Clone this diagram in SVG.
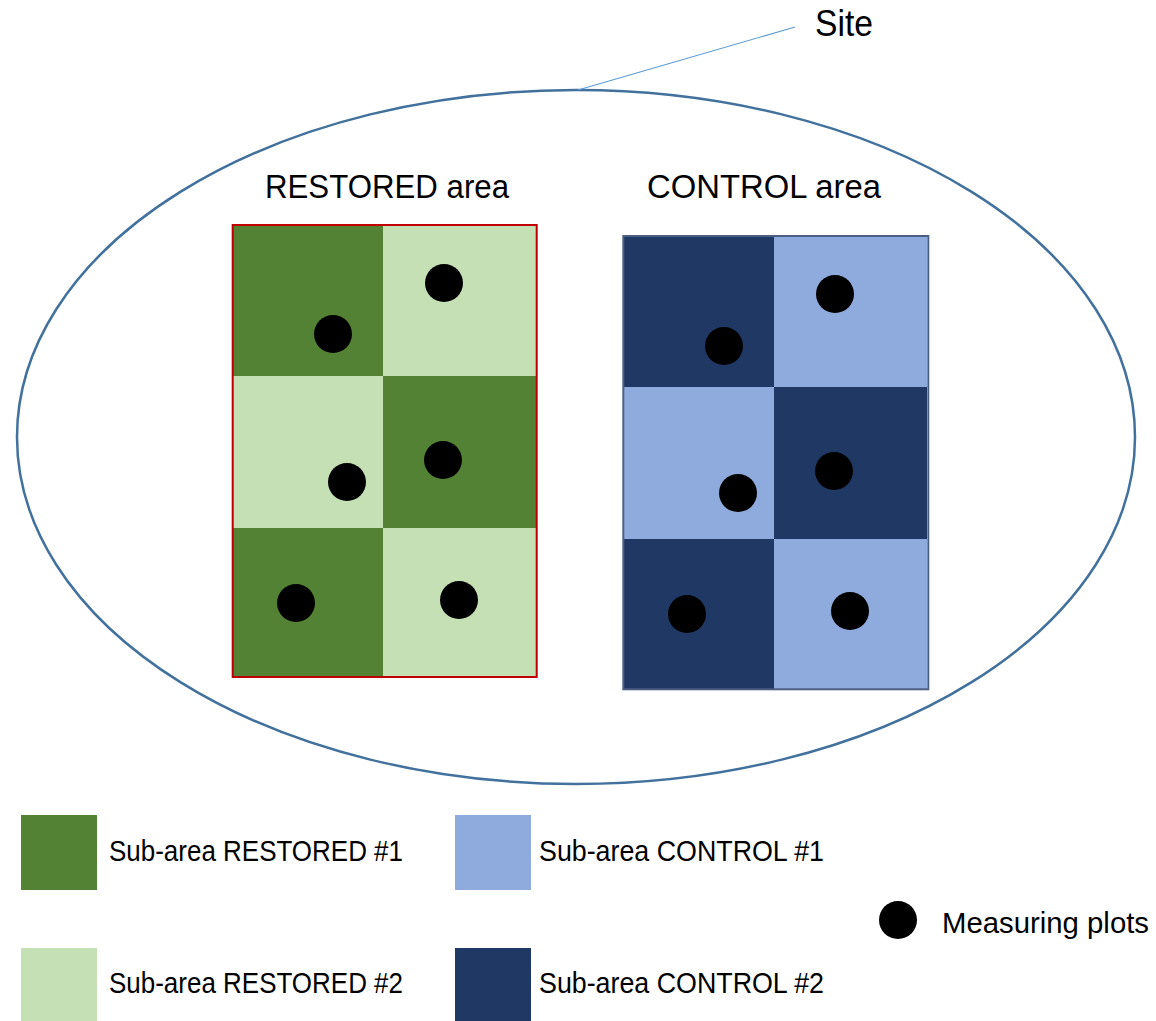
<svg xmlns="http://www.w3.org/2000/svg" width="1156" height="1021" viewBox="0 0 1156 1021">
  <style>
    text { font-family: "Liberation Sans", Arial, sans-serif; fill: #000; }
    .title { font-size: 34px; }
    .label { font-size: 30px; }
    .site { font-size: 37px; }
    .r1 { fill: #548235; }
    .r2 { fill: #c5e0b4; }
    .c1 { fill: #8faadc; }
    .c2 { fill: #203864; }
    .plot { fill: #000; }
  </style>
  <defs>
    <circle id="plot" r="19" class="plot"/>
  </defs>
  <rect width="1156" height="1021" fill="#fff"/>

  <!-- Site boundary -->
  <g id="site">
    <ellipse cx="576" cy="437" rx="559" ry="347" fill="none" stroke="#41719c" stroke-width="2.5"/>
    <text class="site" x="815" y="36" textLength="58" lengthAdjust="spacingAndGlyphs">Site</text>
  </g>

  <!-- Leader line from the site label -->
  <g id="connectors">
    <line x1="578" y1="90" x2="795" y2="27" stroke="#5b9bd5" stroke-width="1.2"/>
  </g>

  <!-- Restored area: 2 x 3 sub-area grid -->
  <g id="restored-area">
    <text class="title" x="265" y="198" textLength="244" lengthAdjust="spacingAndGlyphs">RESTORED area</text>
    <rect class="r1" x="233" y="225" width="150" height="151"/>
    <rect class="r2" x="383" y="225" width="153" height="151"/>
    <rect class="r2" x="233" y="376" width="150" height="152"/>
    <rect class="r1" x="383" y="376" width="153" height="152"/>
    <rect class="r1" x="233" y="528" width="150" height="149"/>
    <rect class="r2" x="383" y="528" width="153" height="149"/>
    <rect x="232.7" y="225" width="304" height="452" fill="none" stroke="#c00000" stroke-width="2"/>
    <use href="#plot" x="333" y="334"/>
    <use href="#plot" x="444" y="283"/>
    <use href="#plot" x="347" y="482"/>
    <use href="#plot" x="443" y="460"/>
    <use href="#plot" x="296" y="603"/>
    <use href="#plot" x="459" y="600"/>
  </g>

  <!-- Control area: 2 x 3 sub-area grid -->
  <g id="control-area">
    <text class="title" x="647" y="198" textLength="234" lengthAdjust="spacingAndGlyphs">CONTROL area</text>
    <rect class="c2" x="624" y="237" width="150" height="150"/>
    <rect class="c1" x="774" y="237" width="153" height="150"/>
    <rect class="c1" x="624" y="387" width="150" height="152"/>
    <rect class="c2" x="774" y="387" width="153" height="152"/>
    <rect class="c2" x="624" y="539" width="150" height="150"/>
    <rect class="c1" x="774" y="539" width="153" height="150"/>
    <rect x="623.3" y="236" width="305" height="453.3" fill="none" stroke="#4d5f80" stroke-width="2"/>
    <use href="#plot" x="724" y="346"/>
    <use href="#plot" x="835" y="294"/>
    <use href="#plot" x="738" y="493"/>
    <use href="#plot" x="834" y="471"/>
    <use href="#plot" x="687" y="614"/>
    <use href="#plot" x="850" y="611"/>
  </g>

  <!-- Legend -->
  <g id="legend-restored-1">
    <rect class="r1" x="21" y="815" width="76" height="75"/>
    <text class="label" x="109" y="861" textLength="294" lengthAdjust="spacingAndGlyphs">Sub-area RESTORED #1</text>
  </g>
  <g id="legend-restored-2">
    <rect class="r2" x="21" y="948" width="76" height="75"/>
    <text class="label" x="109" y="993" textLength="294" lengthAdjust="spacingAndGlyphs">Sub-area RESTORED #2</text>
  </g>
  <g id="legend-control-1">
    <rect class="c1" x="455" y="815" width="76" height="75"/>
    <text class="label" x="539" y="861" textLength="285" lengthAdjust="spacingAndGlyphs">Sub-area CONTROL #1</text>
  </g>
  <g id="legend-control-2">
    <rect class="c2" x="455" y="948" width="76" height="75"/>
    <text class="label" x="539" y="993" textLength="285" lengthAdjust="spacingAndGlyphs">Sub-area CONTROL #2</text>
  </g>
  <g id="legend-plots">
    <use href="#plot" x="898" y="920"/>
    <text class="label" x="942" y="933" textLength="207" lengthAdjust="spacingAndGlyphs">Measuring plots</text>
  </g>
</svg>
